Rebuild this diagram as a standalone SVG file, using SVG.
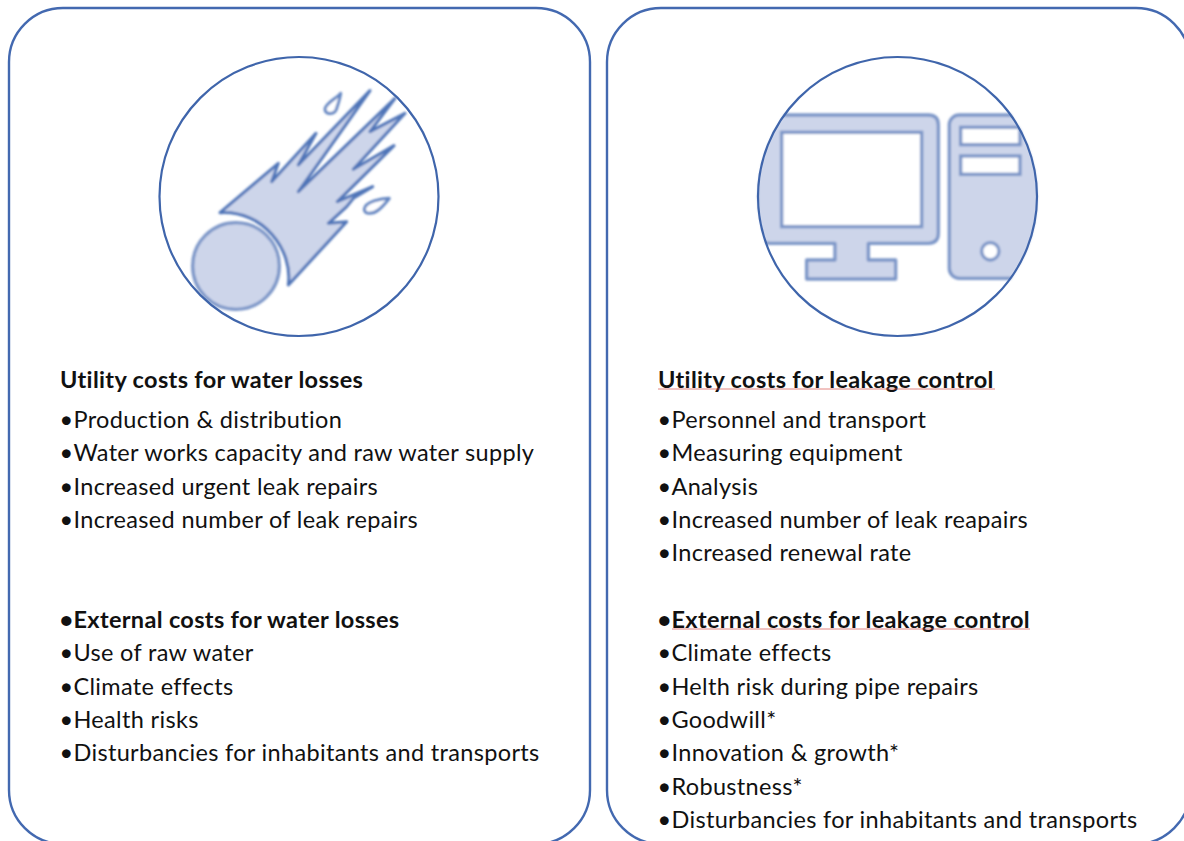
<svg xmlns="http://www.w3.org/2000/svg" width="1184" height="841" viewBox="0 0 1184 841">
<style>
.panel{fill:#fff;stroke:#4369b0;stroke-width:2.4}
.ring{fill:none;stroke:#3f65ab;stroke-width:2.2}
.ico{fill:#cdd5ea;stroke:#7c96c8;stroke-width:10;stroke-linejoin:round}
.hole{fill:#fff;stroke:#7c96c8;stroke-width:10}
.met{fill:#cdd5ea;stroke:#4f75b8;stroke-width:9;stroke-linejoin:round}
.drop{fill:#fff;stroke:#6386c2;stroke-width:9;stroke-linejoin:round}
text{font-family:"Lato","Liberation Sans",sans-serif;font-size:23.5px;fill:#111;letter-spacing:.33px}
.b{font-weight:700;letter-spacing:.33px}
.sq{fill:none;stroke:#d9534f;stroke-width:1;opacity:.7}
</style>
<defs>
<filter id="soft" x="-5%" y="-5%" width="110%" height="110%"><feGaussianBlur stdDeviation="2.4"/></filter>
<clipPath id="c2"><circle cx="443" cy="440" r="420"/></clipPath>
</defs>
<rect width="1184" height="841" fill="#fff"/>
<g id="panel-losses">
<rect class="panel" x="9" y="8" width="581" height="836" rx="54"/>
<g id="meteor-icon" transform="translate(150 50) scale(.3333)" filter="url(#soft)">
<path class="met" d="M210 488L385 340L365 395L498 250L445 345L660 122L445 425L735 145L660 245L765 190L610 358L732 287L562 455L668 410L610 445L590 470L535 520L590 515L415 705C430 600 340 480 210 488Z"/>
<circle class="ico" cx="258" cy="648" r="130"/>
<path class="drop" d="M572 130C560 145 525 160 525 178C525 195 555 195 560 175C565 160 570 145 572 130Z"/>
<path class="drop" d="M718 445C695 445 645 455 643 478C645 495 670 492 685 480C700 468 710 455 718 445Z"/>
</g>
<circle class="ring" cx="299" cy="196.500" r="139.500"/>
<text class="b" x="60" y="388">Utility costs for water losses</text>
<text x="59.500" y="428">•Production &amp; distribution</text>
<text x="59.500" y="461">•Water works capacity and raw water supply</text>
<text x="59.500" y="495">•Increased urgent leak repairs</text>
<text x="59.500" y="528">•Increased number of leak repairs</text>
<text class="b" x="59.500" y="628">•External costs for water losses</text>
<text x="59.500" y="661">•Use of raw water</text>
<text x="59.500" y="695">•Climate effects</text>
<text x="59.500" y="728">•Health risks</text>
<text x="59.500" y="761">•Disturbancies for inhabitants and transports</text>
</g>
<g id="panel-control">
<rect class="panel" x="607" y="8" width="583" height="836" rx="54"/>
<g id="computer-icon" transform="translate(750 50) scale(.3333)" filter="url(#soft)">
<g clip-path="url(#c2)">
<path class="ico" d="M60 195H535Q565 195 565 225V550Q565 580 535 580H355V630H437V687H170V630H255V580H60Q20 580 20 540V235Q20 195 60 195Z"/>
<rect class="hole" x="95" y="247" width="420" height="283"/>
<rect class="ico" x="598" y="195" width="300" height="490" rx="30"/>
<rect class="hole" x="632" y="232" width="178" height="52"/>
<rect class="hole" x="632" y="318" width="178" height="55"/>
<circle class="hole" cx="721" cy="604" r="26"/>
</g>
</g>
<circle class="ring" cx="897.500" cy="196.500" r="139.500"/>
<text class="b" x="658" y="388">Utility costs for leakage control</text>
<path class="sq" d="M658 389H995"/>
<text x="657.500" y="428">•Personnel and transport</text>
<text x="657.500" y="461">•Measuring equipment</text>
<text x="657.500" y="495">•Analysis</text>
<text x="657.500" y="528">•Increased number of leak reapairs</text>
<text x="657.500" y="561">•Increased renewal rate</text>
<text class="b" x="657.500" y="628">•External costs for leakage control</text>
<path class="sq" d="M672 629H1030"/>
<text x="657.500" y="661">•Climate effects</text>
<text x="657.500" y="695">•Helth risk during pipe repairs</text>
<text x="657.500" y="728">•Goodwill*</text>
<text x="657.500" y="761">•Innovation &amp; growth*</text>
<text x="657.500" y="795">•Robustness*</text>
<text x="657.500" y="828">•Disturbancies for inhabitants and transports</text>
</g>
</svg>
